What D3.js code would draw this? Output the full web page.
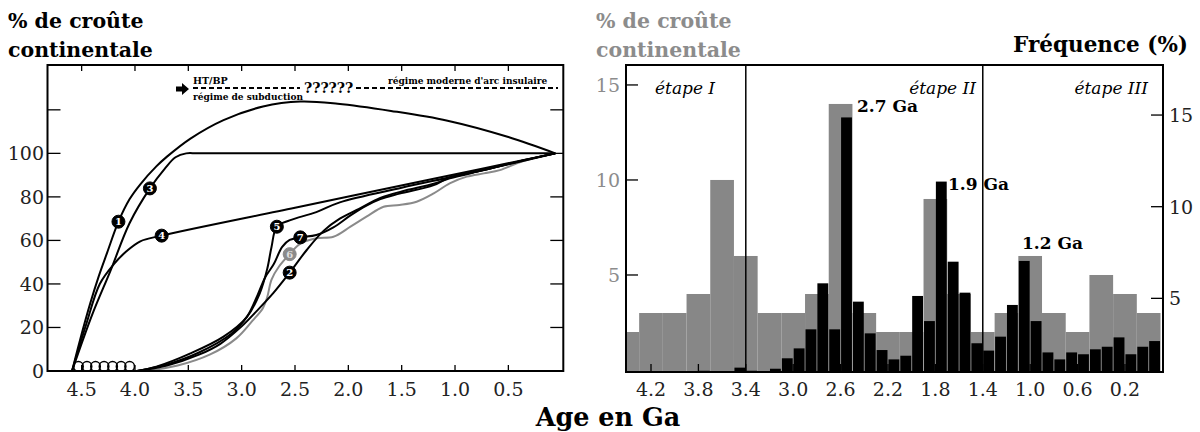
<!DOCTYPE html>
<html>
<head>
<meta charset="utf-8">
<script src="https://cdn.jsdelivr.net/npm/d3@7"></script>
<style>
  body { margin: 0; background: #fff; }
  text { font-family: 'DejaVu Serif', serif; }
</style>
</head>
<body>
<svg id="chart" width="1200" height="432"></svg>
<script>

// ---- Left panel data: growth curves of continental crust (age Ga, % of present) ----
const curve1 = [[4.59,0],[4.5,17],[4.42,31],[4.34,43.5],[4.26,54.5],[4.155,68.6],[4.05,79],[3.95,85.8],[3.8,94],[3.7,98.5],[3.48,106.8],[3.17,115.3],[2.8,121.5],[2.45,123.8],[2.1,122.8],[1.6,119.5],[1.07,115],[0.5,107.5],[0.06,100]];
const curve3 = [[4.59,0],[4.4,26],[4.23,46],[4.05,68],[3.86,83.9],[3.72,93],[3.62,98.2],[3.52,100],[3.4,100],[0.3,100],[0.06,100]];
const curve4 = [[4.59,0],[4.46,21],[4.33,40],[4.2,49],[4.08,55],[3.95,59.6],[3.75,62.2],[2.5,75],[1.2,88.3],[0.06,100]];
const curve5 = [[3.98,0],[3.8,2],[3.48,8.1],[3.17,15.8],[2.95,24.9],[2.83,35.7],[2.76,47],[2.72,57],[2.67,66.3],[2.55,69.2],[2.3,73],[2.08,77.5],[1.5,84.2],[1.0,89.5],[0.5,95],[0.06,100]];
const curve2 = [[3.98,0],[3.7,2.5],[3.4,7.5],[3.2,12.5],[3.0,20.5],[2.86,27.5],[2.7,36],[2.55,45.2],[2.39,55.6],[2.23,64.5],[2.08,70],[1.9,74.5],[1.7,79.5],[1.5,82.5],[1.2,86],[1.05,88.5],[0.73,92.3],[0.42,96.1],[0.06,100]];
const curve7 = [[3.98,0],[3.7,3],[3.4,8.5],[3.1,17],[2.95,25],[2.85,35],[2.78,43],[2.7,49],[2.62,57],[2.55,60.2],[2.45,61.4],[2.3,62.5],[2.14,66],[1.98,71.5],[1.83,76],[1.7,79],[1.52,81.5],[1.2,85.4],[1.05,89],[0.73,92.3],[0.42,96.1],[0.06,100]];
const curve6 = [[3.9,0],[3.6,2.5],[3.3,7.5],[3.05,15],[2.9,23],[2.8,29],[2.76,34],[2.72,42],[2.65,48],[2.55,53.7],[2.45,58.5],[2.3,61],[2.14,61.7],[1.98,66.3],[1.83,70.9],[1.67,75.5],[1.52,76.3],[1.36,77.8],[1.2,81.6],[1.05,86.2],[0.89,89.3],[0.73,90.8],[0.58,92.3],[0.42,95.4],[0.27,97.7],[0.06,100]];
const hadeanAges = [4.53,4.45,4.37,4.29,4.21,4.13,4.05];   // open circles on the 0 line
const markerIds = ['1','3','4','5','7','6','2'];
const markerAges = [4.155,3.86,3.75,2.67,2.45,2.55,2.55];
const markerVals = [68.6,83.9,62.2,66.3,61.4,53.7,45.2];
const leftXTicks = [4.5,4.0,3.5,3.0,2.5,2.0,1.5,1.0,0.5];
const leftYTicks = [0,20,40,60,80,100];

// ---- Right panel data ----
// grey histogram: % crust, 0.2 Ga bins, listed by older edge
const greyStart = [4.5,4.3,4.1,3.9,3.7,3.5,3.3,3.1,2.9,2.7,2.5,2.3,2.1,1.9,1.7,1.5,1.3,1.1,0.9,0.7,0.5,0.3,0.1];
const greyVals  = [2,3,3,4,10,6,3,3,4,14,3,2,2,9,4,2,3,6,3,2,5,4,3];
// black histogram: frequency (%), 0.1 Ga bins, listed by older edge
const blackStart = [3.8,3.5,3.4,3.2,3.1,3.0,2.9,2.8,2.7,2.6,2.5,2.4,2.3,2.2,2.1,2.0,1.9,1.8,1.7,1.6,1.5,1.4,1.3,1.2,1.1,1.0,0.9,0.8,0.7,0.6,0.5,0.4,0.3,0.2,0.1,0.0];
const blackVals  = [1.05,1.22,1.05,1.16,1.73,2.27,3.31,5.82,3.31,14.87,4.82,3.09,2.18,1.67,1.87,5.13,3.76,11.37,7.0,5.31,2.55,2.15,2.91,4.64,7.04,3.76,2.05,1.67,2.05,1.95,2.22,2.36,2.87,1.95,2.36,2.67];
const stageBounds = [3.4,1.4];
const rightXTicks = [4.2,3.8,3.4,3.0,2.6,2.2,1.8,1.4,1.0,0.6,0.2];
const greyTicks = [5,10,15];
const freqTicks = [5,10,15];

const svg = d3.select('#chart');
const grey = '#878787';

// ================= LEFT PANEL =================
const L = {x0: 47.5, x1: 563.3, y0: 65, y1: 371};
const xL = d3.scaleLinear().domain([4.82, -0.015]).range([L.x0, L.x1]);
const yL = d3.scaleLinear().domain([0, 140.6]).range([L.y1, L.y0]);

const left = svg.append('g');

// ticks on all four sides
left.selectAll('.bt').data(leftXTicks).join('line')
  .attr('x1', d => xL(d)).attr('x2', d => xL(d))
  .attr('y1', L.y1).attr('y2', L.y1 - 6)
  .attr('stroke', '#000').attr('stroke-width', 1.3);
left.selectAll('.tt').data(leftXTicks).join('line')
  .attr('x1', d => xL(d)).attr('x2', d => xL(d))
  .attr('y1', L.y0).attr('y2', L.y0 + 6)
  .attr('stroke', '#000').attr('stroke-width', 1.3);
left.selectAll('.lt').data([20,40,60,80,100,120]).join('line')
  .attr('x1', L.x0).attr('x2', L.x0 + 13)
  .attr('y1', d => yL(d)).attr('y2', d => yL(d))
  .attr('stroke', '#000').attr('stroke-width', 1.3);
left.selectAll('.rt').data([20,40,60,80,100,120]).join('line')
  .attr('x1', L.x1).attr('x2', L.x1 - 13)
  .attr('y1', d => yL(d)).attr('y2', d => yL(d))
  .attr('stroke', '#000').attr('stroke-width', 1.3);

// tick labels
left.selectAll('.xl').data(leftXTicks).join('text')
  .attr('x', d => xL(d)).attr('y', 396)
  .attr('text-anchor', 'middle').attr('font-size', 19).attr('fill', '#222')
  .text(d => d.toFixed(1));
left.selectAll('.yl').data(leftYTicks).join('text')
  .attr('x', 44).attr('y', d => yL(d) + 7)
  .attr('text-anchor', 'end').attr('font-size', 19).attr('fill', '#222')
  .text(d => d);

// curves
const line = d3.line().x(d => xL(d[0])).y(d => yL(d[1])).curve(d3.curveCatmullRom.alpha(0.5));
const blackCurves = [curve1, curve3, curve4, curve5, curve2, curve7];
left.append('path').datum(curve6).attr('d', line)
  .attr('fill', 'none').attr('stroke', '#8a8a8a').attr('stroke-width', 2);
left.selectAll('.curve').data(blackCurves).join('path')
  .attr('d', line).attr('fill', 'none')
  .attr('stroke', '#000').attr('stroke-width', 2);

// hadean open circles
left.selectAll('.had').data(hadeanAges).join('circle')
  .attr('cx', d => xL(d)).attr('cy', yL(0) - 4.6).attr('r', 4.8)
  .attr('fill', 'none').attr('stroke', '#000').attr('stroke-width', 1.5);

// numbered markers
const mk = left.selectAll('.mk').data(markerIds).join('g')
  .attr('transform', (d, i) => `translate(${xL(markerAges[i])},${yL(markerVals[i])})`);
mk.append('circle').attr('r', 6.5)
  .attr('fill', d => d === '6' ? '#8a8a8a' : '#000')
  .attr('stroke', d => d === '6' ? '#8a8a8a' : '#000').attr('stroke-width', 1);
mk.append('text').attr('y', 3.6).attr('text-anchor', 'middle')
  .attr('font-size', 10).attr('font-weight', 'bold')
  .attr('fill', d => d === '6' ? '#ddd' : '#fff')
  .text(d => d);

// frame
left.append('rect').attr('x', L.x0).attr('y', L.y0)
  .attr('width', L.x1 - L.x0).attr('height', L.y1 - L.y0)
  .attr('fill', 'none').attr('stroke', '#000').attr('stroke-width', 2);

// regime annotation
left.append('path')
  .attr('d', 'M176,86.5 L182,86.5 L182,83 L189,89 L182,95 L182,91.5 L176,91.5 Z')
  .attr('fill', '#000');
left.append('line').attr('x1', 193).attr('x2', 300).attr('y1', 88).attr('y2', 88)
  .attr('stroke', '#000').attr('stroke-width', 2).attr('stroke-dasharray', '5,3');
left.append('line').attr('x1', 356).attr('x2', 558).attr('y1', 88).attr('y2', 88)
  .attr('stroke', '#000').attr('stroke-width', 2).attr('stroke-dasharray', '5,3');
left.append('text').attr('x', 193).attr('y', 84).attr('font-size', 9.5).attr('font-weight', 'bold').text('HT/BP');
left.append('text').attr('x', 193).attr('y', 100).attr('font-size', 9).attr('font-weight', 'bold').text('régime de subduction');
left.append('text').attr('x', 304).attr('y', 93).attr('font-size', 14).attr('font-weight', 'bold').text('??????');
left.append('text').attr('x', 388).attr('y', 84).attr('font-size', 9).attr('font-weight', 'bold').text("régime moderne d'arc insulaire");

// title
left.append('text').attr('x', 8).attr('y', 28).attr('font-size', 20.5).attr('font-weight', 'bold').text('% de croûte');
left.append('text').attr('x', 8).attr('y', 57).attr('font-size', 20.5).attr('font-weight', 'bold').text('continentale');

// ================= RIGHT PANEL =================
const R = {x0: 626, x1: 1163, y0: 65, y1: 372};
const xR = d3.scaleLinear().domain([4.411, -0.121]).range([R.x0, R.x1]);
const yG = d3.scaleLinear().domain([-0.105, 16.05]).range([R.y1, R.y0]);   // grey, left axis
const yF = d3.scaleLinear().domain([0.982, 17.73]).range([R.y1, R.y0]);    // frequency, right axis

const right = svg.append('g');
svg.append('defs').append('clipPath').attr('id', 'rclip')
  .append('rect').attr('x', R.x0).attr('y', R.y0).attr('width', R.x1 - R.x0).attr('height', R.y1 - R.y0);

const bars = right.append('g').attr('clip-path', 'url(#rclip)');
bars.selectAll('.gb').data(greyStart).join('rect')
  .attr('x', d => xR(d)).attr('width', d => xR(d - 0.2) - xR(d))
  .attr('y', (d, i) => yG(greyVals[i])).attr('height', (d, i) => R.y1 - yG(greyVals[i]))
  .attr('fill', grey);

// bottom ticks (under black bars)
right.selectAll('.rbt').data(rightXTicks).join('line')
  .attr('x1', d => xR(d)).attr('x2', d => xR(d))
  .attr('y1', R.y1).attr('y2', R.y1 - 8)
  .attr('stroke', '#000').attr('stroke-width', 1.3);

bars.selectAll('.bb').data(blackStart).join('rect')
  .attr('x', d => xR(d) + 0.5).attr('width', d => xR(d - 0.1) - xR(d) - 1)
  .attr('y', (d, i) => yF(blackVals[i])).attr('height', (d, i) => R.y1 - yF(blackVals[i]))
  .attr('fill', '#000');

// stage boundaries
right.selectAll('.stage').data(stageBounds).join('line')
  .attr('x1', d => xR(d)).attr('x2', d => xR(d))
  .attr('y1', R.y0).attr('y2', R.y1)
  .attr('stroke', '#000').attr('stroke-width', 1.5);

// axes ticks
right.selectAll('.glt').data(greyTicks).join('line')
  .attr('x1', R.x0).attr('x2', R.x0 + 12)
  .attr('y1', d => yG(d)).attr('y2', d => yG(d))
  .attr('stroke', '#000').attr('stroke-width', 1.3);
right.selectAll('.frt').data(freqTicks).join('line')
  .attr('x1', R.x1).attr('x2', R.x1 - 12)
  .attr('y1', d => yF(d)).attr('y2', d => yF(d))
  .attr('stroke', '#000').attr('stroke-width', 1.3);

right.selectAll('.gl').data(greyTicks).join('text')
  .attr('x', 620).attr('y', d => yG(d) + 7)
  .attr('text-anchor', 'end').attr('font-size', 19).attr('fill', '#8c8c8c')
  .text(d => d);
right.selectAll('.fl').data(freqTicks).join('text')
  .attr('x', 1169).attr('y', d => yF(d) + 7)
  .attr('font-size', 19).attr('fill', '#222')
  .text(d => d);
right.selectAll('.rxl').data(rightXTicks).join('text')
  .attr('x', d => xR(d)).attr('y', 396)
  .attr('text-anchor', 'middle').attr('font-size', 19).attr('fill', '#222')
  .text(d => d.toFixed(1));

// frame
right.append('rect').attr('x', R.x0).attr('y', R.y0)
  .attr('width', R.x1 - R.x0).attr('height', R.y1 - R.y0)
  .attr('fill', 'none').attr('stroke', '#000').attr('stroke-width', 2);

// stage labels
const stageLabels = [['étape I', 655, 'start'], ['étape II', 976, 'end'], ['étape III', 1148, 'end']];
right.selectAll('.sl').data(stageLabels).join('text')
  .attr('x', d => d[1]).attr('y', 94).attr('text-anchor', d => d[2])
  .attr('font-size', 17).attr('font-style', 'italic')
  .text(d => d[0]);

// peak labels
const peaks = [['2.7 Ga', 857, 112], ['1.9 Ga', 948, 190], ['1.2 Ga', 1022, 249]];
right.selectAll('.pk').data(peaks).join('text')
  .attr('x', d => d[1]).attr('y', d => d[2])
  .attr('font-size', 17).attr('font-weight', 'bold')
  .text(d => d[0]);

// titles
right.append('text').attr('x', 596).attr('y', 28).attr('font-size', 20.5).attr('font-weight', 'bold').attr('fill', '#8c8c8c').text('% de croûte');
right.append('text').attr('x', 596).attr('y', 57).attr('font-size', 20.5).attr('font-weight', 'bold').attr('fill', '#8c8c8c').text('continentale');
right.append('text').attr('x', 1188).attr('y', 52).attr('text-anchor', 'end').attr('font-size', 21.5).attr('font-weight', 'bold').text('Fréquence (%)');

// shared x title
svg.append('text').attr('x', 608).attr('y', 426).attr('text-anchor', 'middle')
  .attr('font-size', 25.5).attr('font-weight', 'bold').text('Age en Ga');

</script>
</body>
</html>
